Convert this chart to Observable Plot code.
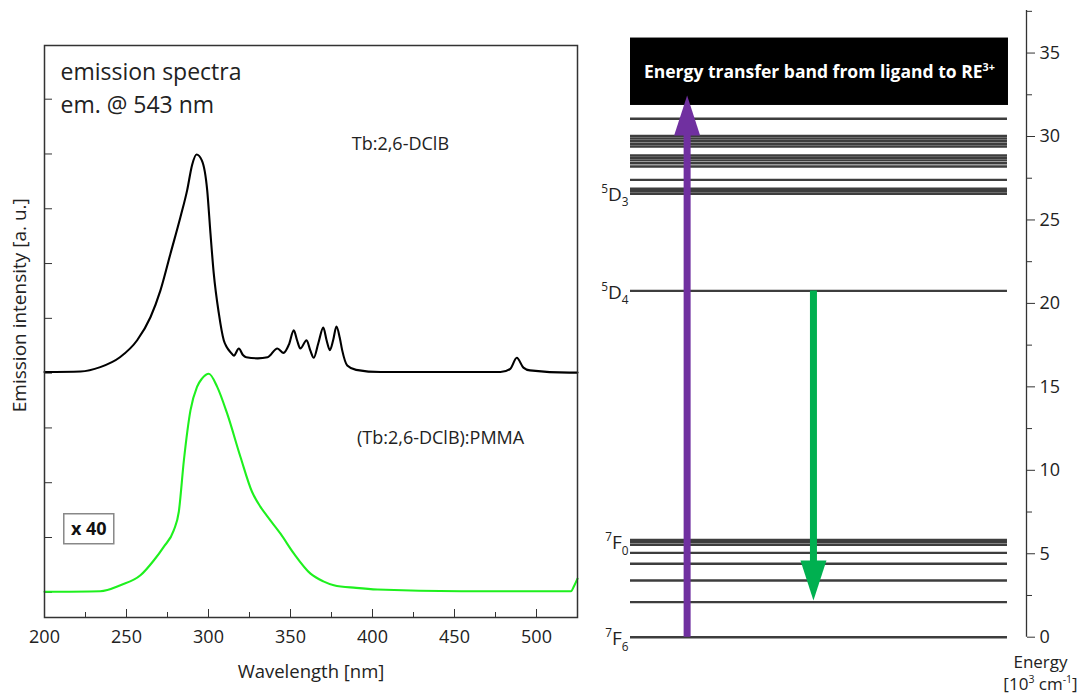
<!DOCTYPE html>
<html><head><meta charset="utf-8">
<script src="https://cdn.jsdelivr.net/npm/d3@7"></script>
<script src="https://cdn.jsdelivr.net/npm/@observablehq/plot@0.6"></script>
<style>
body{margin:0;background:#fff;}
#wrap{display:flex;width:1088px;height:697px;}
svg{font-family:"Open Sans",sans-serif;}
</style></head><body><div id="wrap"></div>
<script>
// ---------- data: emission spectra ----------
const blackWl  = [200, 222, 234, 246, 256.5, 264.6, 270.7, 276.8, 282.9, 287, 290, 292.7, 296, 299.2, 301.2, 303.2, 306.3, 309.3, 311, 313.5, 315.5, 318.5, 321, 323, 330, 336, 342, 345.8, 349, 352, 354, 356, 359.8, 362, 364.2, 367, 370, 372, 374, 376, 378, 380, 381.5, 384.6, 390, 405, 478, 484, 488, 492, 496, 520, 525];
const blackInt = [4.02, 4.03, 4.11, 4.29, 4.6, 5.02, 5.51, 6.18, 6.85, 7.34, 7.8, 7.99, 7.88, 7.34, 6.55, 5.82, 5.09, 4.6, 4.48, 4.38, 4.32, 4.45, 4.33, 4.29, 4.27, 4.29, 4.45, 4.37, 4.52, 4.78, 4.6, 4.45, 4.6, 4.42, 4.28, 4.55, 4.83, 4.6, 4.42, 4.6, 4.85, 4.65, 4.42, 4.14, 4.06, 4.02, 4.02, 4.08, 4.28, 4.1, 4.05, 4.01, 4.01];
const greenWl  = [200, 234, 246.3, 258.5, 266.6, 272.7, 278.8, 281.9, 285, 289, 293, 296, 300.2, 305.3, 311.4, 319.5, 326.6, 331.7, 336, 343.9, 352, 362.2, 370, 376.4, 390, 403, 454, 521, 523, 525];
const greenInt = [0.01, 0.02, 0.13, 0.31, 0.58, 0.83, 1.13, 1.47, 2.41, 3.32, 3.75, 3.9, 3.99, 3.75, 3.26, 2.47, 1.83, 1.56, 1.38, 1.07, 0.71, 0.34, 0.2, 0.13, 0.08, 0.05, 0.02, 0.02, 0.12, 0.25];
const xMajor = [200, 250, 300, 350, 400, 450, 500];
const xMinor = [225, 275, 325, 375, 425, 475, 525];
const yTicks = [0, 1, 2, 3, 4, 5, 6, 7, 8, 9];
const seriesNames = ["Tb:2,6-DClB", "(Tb:2,6-DClB):PMMA"];
const scaleNote = "x 40";
const titleLines = ["emission spectra", "em. @ 543 nm"];

// ---------- data: energy level diagram ----------
const levelEnergies = [0, 2.1, 3.4, 4.4, 5.05, 5.53, 5.69, 5.82, 20.75, 26.57, 26.72, 26.87, 27.4, 28.2, 28.4, 28.57, 28.72, 28.86, 29.4, 29.56, 29.72, 29.88, 30.04, 31.06];
const levelNames = ["^{7}F_{6}", "^{7}F_{0}", "^{5}D_{4}", "^{5}D_{3}"];
const levelNameEnergies = [0, 5.75, 20.75, 26.62];
const bandLow = 31.86, bandHigh = 35.9;
const bandText = "Energy transfer band from ligand to RE^{3+}";
const excitation = {from: 0, to: 32.46};
const emission = {from: 20.75, to: 2.2};
const energyTicks = [0, 5, 10, 15, 20, 25, 30, 35];
const energyMinor = [2.5, 7.5, 12.5, 17.5, 22.5, 27.5, 32.5, 37.5];

// ---------- left panel ----------
const black = blackWl.map((w, i) => ({wl: w, v: blackInt[i]}));
const green = greenWl.map((w, i) => ({wl: w, v: greenInt[i]}));
const boxSym = {draw(ctx) { ctx.rect(-25, -15, 50, 30); }};

const left = Plot.plot({
  width: 590, height: 697,
  marginLeft: 44, marginRight: 13, marginTop: 45, marginBottom: 80,
  x: {domain: [200, 525]},
  y: {domain: [-0.46, 9.98]},
  marks: [
    Plot.axisX({ticks: xMinor, tickSize: -5, tickFormat: () => "", label: null, stroke: "#333"}),
    Plot.axisX({ticks: xMajor, tickSize: -8, tickPadding: 21, fontSize: 18, label: null, stroke: "#333", fill: "#222"}),
    Plot.axisY({ticks: yTicks, tickSize: -8, tickFormat: () => "", label: null, stroke: "#333"}),
    Plot.line(black, {x: "wl", y: "v", stroke: "#000", strokeWidth: 2.1, curve: "monotone-x"}),
    Plot.line(green, {x: "wl", y: "v", stroke: "#1ef01e", strokeWidth: 2.1, curve: "monotone-x"}),
    Plot.frame({stroke: "#333", strokeWidth: 1.5}),
    Plot.text([titleLines[0]], {frameAnchor: "top-left", lineAnchor: "middle", dx: 16, dy: 27, textAnchor: "start", fontSize: 23, fill: "#222"}),
    Plot.text([titleLines[1]], {frameAnchor: "top-left", lineAnchor: "middle", dx: 16, dy: 60, textAnchor: "start", fontSize: 23, fill: "#222"}),
    Plot.text([seriesNames[0]], {x: 417, y: 8.18, fontSize: 18, fill: "#222"}),
    Plot.text([seriesNames[1]], {x: 441.5, y: 2.81, fontSize: 18, fill: "#222"}),
    Plot.dot([scaleNote], {x: 227, y: 1.16, symbol: boxSym, fill: "white", stroke: "#888", strokeWidth: 1.5}),
    Plot.text([scaleNote], {x: 227, y: 1.16, fontSize: 18, fontWeight: "bold", fill: "#111"}),
    Plot.text(["Wavelength [nm]"], {frameAnchor: "bottom", lineAnchor: "middle", dy: 55, fontSize: 18.5, fill: "#222"}),
    Plot.text(["Emission intensity [a. u.]"], {frameAnchor: "left", y: 5.24, dx: -25, rotate: -90, textAnchor: "middle", lineAnchor: "middle", fontSize: 19, fill: "#222"})
  ]
});

// ---------- right panel ----------
const H = 697, mT = 10, mB = 60.3, eMax = 37.55;
const pxPerUnit = (H - mT - mB) / eMax;
const headLen = 40;
const headUp = {draw(ctx) { ctx.moveTo(0, 0); ctx.lineTo(13, headLen); ctx.lineTo(-13, headLen); ctx.closePath(); }};
const headDown = {draw(ctx) { ctx.moveTo(0, 0); ctx.lineTo(13, -headLen); ctx.lineTo(-13, -headLen); ctx.closePath(); }};
const purple = "#7030a0", greenArrow = "#00b050";
const exc = [{...excitation, shaftEnd: excitation.to - headLen / pxPerUnit + 0.3}];
const emi = [{...emission, shaftEnd: emission.to + headLen / pxPerUnit - 0.3}];
const names = levelNames.map((n, i) => ({n, e: levelNameEnergies[i]}));

const right = Plot.plot({
  width: 498, height: H,
  marginLeft: 40, marginRight: 62, marginTop: mT, marginBottom: mB,
  x: {domain: [0, 100], axis: null},
  y: {domain: [0, eMax]},
  marks: [
    Plot.ruleY(levelEnergies, {y: d => d, x1: 0, x2: 95.2, stroke: "#3d3d3d", strokeWidth: 2.4}),
    Plot.rect([{lo: bandLow, hi: bandHigh}], {x1: 0, x2: 95.45, y1: "lo", y2: "hi", fill: "black"}),
    Plot.text([bandText], {x: 47.7, y: 33.85, fill: "white", fontWeight: "bold", fontSize: 17.5}),
    Plot.ruleX(exc, {x: 14.3, y1: "from", y2: "shaftEnd", stroke: purple, strokeWidth: 7}),
    Plot.dot(exc, {x: 14.3, y: "to", symbol: headUp, fill: purple, stroke: "none"}),
    Plot.ruleX(emi, {x: 46.2, y1: "from", y2: "shaftEnd", stroke: greenArrow, strokeWidth: 7}),
    Plot.dot(emi, {x: 46.2, y: "to", symbol: headDown, fill: greenArrow, stroke: "none"}),
    Plot.text(names, {x: 0, y: "e", text: "n", textAnchor: "end", dx: -2, dy: 2, fontSize: 19, fill: "#222"}),
    Plot.ruleX([eMax], {x: 100, y1: 0, y2: eMax, stroke: "#333", strokeWidth: 1.3}),
    Plot.axisY({anchor: "right", ticks: energyMinor, tickSize: 5, tickFormat: () => "", label: null, stroke: "#333"}),
    Plot.axisY({anchor: "right", ticks: energyTicks, tickSize: 8, tickPadding: 5, fontSize: 18, label: null, stroke: "#333", fill: "#222"}),
    Plot.text(["Energy"], {frameAnchor: "bottom-right", textAnchor: "middle", lineAnchor: "middle", dx: 14, dy: 25, fontSize: 17, fill: "#222"}),
    Plot.text(["[10^{3} cm^{-1}]"], {frameAnchor: "bottom-right", textAnchor: "middle", lineAnchor: "middle", dx: 14, dy: 47, fontSize: 17, fill: "#222"})
  ]
});

const wrap = document.getElementById("wrap");
wrap.appendChild(left);
wrap.appendChild(right);

// render ^{..} and _{..} as superscript/subscript tspans
function richify(svg) {
  svg.querySelectorAll("text").forEach(t => {
    const s = t.textContent;
    if (!/[\^_]\{/.test(s)) return;
    const fs = parseFloat(getComputedStyle(t).fontSize) || 16;
    const parts = [];
    const re = /([\^_])\{([^}]*)\}|([^\^_]+)/g;
    let m;
    while ((m = re.exec(s))) {
      if (m[3] !== undefined) parts.push({t: m[3], mode: 0});
      else parts.push({t: m[2], mode: m[1] === "^" ? 1 : -1});
    }
    while (t.firstChild) t.removeChild(t.firstChild);
    let off = 0;
    for (const p of parts) {
      const ts = document.createElementNS("http://www.w3.org/2000/svg", "tspan");
      const target = p.mode === 1 ? -0.42 * fs : p.mode === -1 ? 0.28 * fs : 0;
      ts.setAttribute("dy", (target - off).toFixed(2));
      off = target;
      if (p.mode !== 0) ts.setAttribute("font-size", (0.62 * fs).toFixed(1));
      ts.textContent = p.t;
      t.appendChild(ts);
    }
  });
}
richify(left);
richify(right);
</script>
</body></html>
